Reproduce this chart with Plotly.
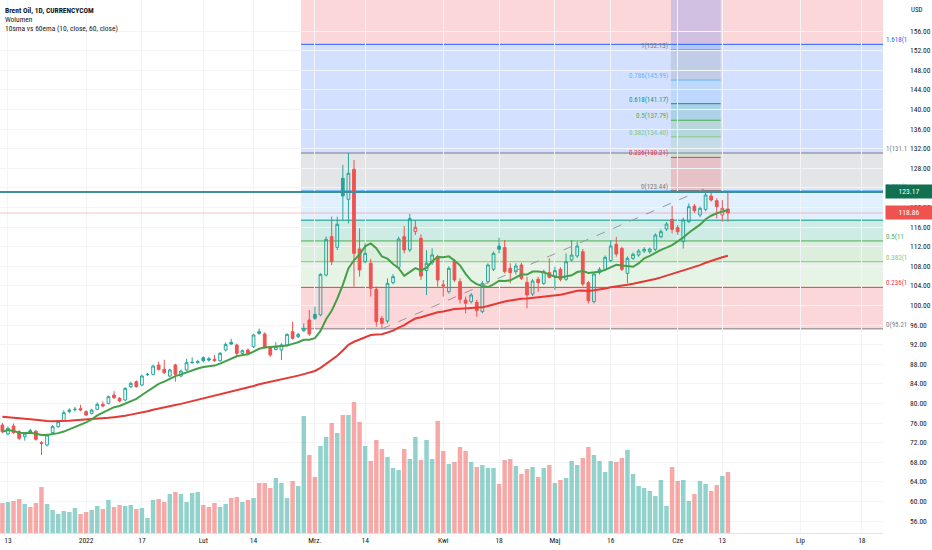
import pandas as pd
import plotly.graph_objects as go

# daily bars, Brent Oil CFD (CURRENCYCOM), Dec 10 2021 - Jun 14 2022
holidays = ["2021-12-24", "2022-04-15"]
dates = pd.bdate_range("2021-12-10", "2022-06-14")
dates = dates[~dates.isin(pd.to_datetime(holidays))]

opens = [
    75.59, 73.75, 75.39, 74.23, 73.20, 74.44, 74.30, 71.98, 71.51, 74.03,
    75.25, 76.47, 78.31, 78.72, 78.92, 78.31, 77.97, 78.79, 79.81, 80.01,
    81.71, 81.03, 80.69, 83.41, 84.43, 83.75, 85.90, 85.93, 87.84, 86.95,
    85.59, 87.84, 85.59, 86.82, 88.30, 88.31, 89.33, 89.13, 88.99, 88.72,
    90.90, 92.46, 91.92, 90.22, 90.90, 91.58, 94.64, 94.16, 91.44, 91.03,
    90.90, 91.92, 94.64, 93.62, 94.84, 97.02, 98.18, 98.05, 106.20, 114.03,
    111.85, 125.94, 121.65, 127.77, 111.52, 108.93, 108.59, 103.28, 97.36, 96.82,
    104.65, 107.77, 114.03, 111.31, 115.05, 113.69, 107.10, 108.70, 109.95, 104.20,
    102.80, 109.06, 104.85, 101.10, 100.76, 100.63, 98.73, 104.85, 107.37, 112.10,
    111.80, 107.56, 106.90, 108.25, 104.70, 102.32, 105.32, 104.50, 106.68, 106.00,
    107.36, 105.32, 109.26, 110.08, 110.96, 104.64, 100.76, 106.75, 107.36, 109.13,
    112.46, 111.64, 106.54, 109.60, 110.28, 111.10, 110.96, 111.44, 114.00, 115.59,
    117.56, 115.86, 113.00, 117.09, 120.28, 118.45, 119.60, 122.33, 121.37, 118.45,
    119.67,
]
highs = [
    76.00, 75.30, 75.90, 74.60, 74.00, 74.80, 74.60, 72.30, 73.80, 75.60,
    76.50, 78.60, 79.00, 79.30, 79.70, 78.60, 78.90, 80.20, 80.40, 81.60,
    82.50, 81.30, 83.30, 84.40, 84.70, 85.90, 86.20, 87.90, 88.50, 88.90,
    87.10, 88.10, 86.90, 89.10, 89.40, 88.90, 89.60, 89.50, 89.90, 90.50,
    92.40, 93.20, 92.20, 91.00, 91.20, 94.20, 95.30, 94.50, 91.70, 92.50,
    92.30, 94.30, 96.70, 94.40, 96.30, 99.06, 99.75, 106.55, 114.03, 118.11,
    118.10, 128.66, 131.10, 129.68, 115.73, 112.67, 109.50, 103.83, 97.80, 105.53,
    106.40, 114.03, 116.21, 118.66, 117.43, 114.50, 111.30, 111.65, 110.30, 105.19,
    108.00, 109.50, 105.53, 101.79, 102.50, 101.10, 105.00, 108.60, 111.00, 113.83,
    113.35, 108.59, 108.60, 108.70, 105.86, 105.40, 105.86, 107.30, 109.60, 107.90,
    107.80, 110.62, 113.35, 113.00, 111.50, 105.00, 106.80, 107.80, 110.20, 113.35,
    114.00, 112.00, 110.00, 110.80, 111.50, 111.90, 111.80, 114.70, 115.50, 117.00,
    120.28, 116.40, 117.90, 120.83, 120.70, 120.20, 123.20, 123.44, 121.85, 121.50,
    123.20,
]
lows = [
    73.90, 73.50, 73.80, 72.50, 72.40, 73.90, 72.40, 69.47, 71.20, 73.80,
    75.00, 76.20, 78.00, 78.30, 78.40, 77.40, 77.70, 78.60, 79.20, 79.80,
    80.90, 80.20, 80.40, 83.10, 83.20, 83.50, 85.60, 85.70, 86.70, 86.00,
    85.30, 84.43, 85.30, 86.60, 88.10, 88.10, 88.40, 88.50, 88.50, 88.50,
    90.60, 92.00, 89.50, 89.90, 89.90, 91.30, 94.00, 91.20, 89.50, 90.80,
    88.86, 91.60, 93.00, 93.30, 94.60, 93.80, 97.03, 97.80, 105.90, 108.25,
    111.30, 117.43, 116.75, 103.83, 105.87, 108.59, 101.79, 95.66, 95.21, 96.34,
    104.30, 107.40, 110.63, 110.90, 114.37, 105.19, 102.10, 108.25, 103.83, 101.79,
    102.40, 104.80, 100.40, 98.39, 100.40, 97.70, 98.40, 104.50, 107.00, 110.63,
    106.55, 104.51, 106.30, 105.20, 99.40, 101.90, 102.80, 104.20, 105.50, 103.14,
    104.90, 105.00, 108.90, 109.70, 103.90, 100.40, 100.40, 106.30, 107.00, 108.80,
    109.94, 107.00, 104.50, 109.30, 109.90, 110.70, 110.60, 111.10, 113.70, 115.20,
    114.70, 114.40, 111.60, 116.80, 118.90, 118.00, 119.20, 121.20, 117.77, 117.09,
    117.09,
]
closes = [
    74.23, 74.91, 74.03, 72.87, 73.80, 74.10, 72.67, 71.85, 73.55, 75.25,
    76.27, 78.11, 78.65, 78.80, 78.65, 77.63, 78.65, 79.81, 79.47, 81.37,
    81.17, 80.49, 83.07, 84.09, 83.41, 85.59, 85.93, 87.63, 86.95, 86.27,
    86.82, 85.93, 86.61, 88.31, 88.38, 88.52, 88.72, 88.86, 88.72, 90.22,
    92.05, 92.10, 90.22, 90.76, 90.22, 93.96, 94.30, 91.44, 89.88, 91.58,
    91.92, 94.09, 93.28, 94.09, 95.32, 94.16, 97.37, 106.34, 113.49, 108.93,
    116.55, 122.33, 126.96, 110.63, 107.23, 110.63, 103.49, 96.68, 96.34, 104.51,
    105.87, 113.56, 111.31, 117.71, 115.94, 106.00, 108.60, 110.30, 105.19, 103.97,
    107.57, 105.19, 101.24, 100.43, 102.13, 98.93, 104.51, 108.25, 110.63, 111.45,
    106.90, 106.68, 108.05, 105.52, 102.12, 104.98, 104.64, 106.88, 105.73, 107.09,
    105.32, 108.92, 110.28, 112.12, 104.36, 100.96, 106.41, 107.36, 109.81, 112.12,
    110.49, 107.36, 109.60, 110.42, 111.10, 111.44, 111.50, 114.36, 115.05, 116.61,
    115.52, 115.05, 117.43, 120.15, 119.33, 119.81, 122.53, 121.51, 120.15, 119.81,
    118.86,
]
# volume, thousand lots
volume = [
    30, 31, 32, 34, 29, 26, 30, 46, 29, 23,
    19, 22, 21, 25, 19, 21, 23, 27, 24, 33,
    26, 28, 27, 28, 24, 25, 15, 33, 34, 31,
    39, 41, 39, 31, 40, 41, 28, 26, 30, 26,
    29, 35, 36, 31, 33, 35, 50, 50, 45, 55,
    50, 35, 52, 47, 117, 78, 56, 87, 96, 110,
    100, 118, 118, 131, 111, 87, 72, 93, 84, 76,
    65, 63, 84, 74, 96, 73, 93, 74, 112, 82,
    69, 71, 86, 82, 71, 66, 68, 65, 65, 49,
    73, 74, 67, 59, 64, 66, 56, 65, 68, 50,
    53, 55, 72, 68, 75, 86, 78, 72, 61, 72,
    71, 75, 83, 59, 47, 45, 42, 37, 53, 27,
    66, 52, 53, 32, 39, 52, 49, 42, 48, 57,
    61,
]
ema_seed = 77.4  # 60 ema level at the first visible bar

# fib retracement 95.21 -> 131.10
fib_low, fib_high = 95.21, 131.10
fib_ratios = [0, 0.236, 0.382, 0.5, 0.618, 0.786, 1, 1.618, 2.618]
fib_colors = ["#787b86", "#f23645", "#81c784", "#4caf50", "#089981",
              "#64b5f6", "#787b86", "#2962ff", "#f23645"]
fib_labels = ["0(95.21", "0.236(1", "0.382(1", "0.5(11", "0.618(1",
              "0.786(1", "1(131.1", "1.618(1"]
# trend based fib extension
ext_prices = [123.44, 130.21, 134.40, 137.79, 141.17, 145.99, 152.13]
ext_top = 169.86

hline_price = 123.17
last_price = 118.86

tick_dates = ["2021-12-13", "2022-01-03", "2022-01-17", "2022-02-01", "2022-02-14",
              "2022-03-01", "2022-03-14", "2022-04-01", "2022-04-18", "2022-05-02",
              "2022-05-16", "2022-06-01", "2022-06-13", "2022-07-01", "2022-07-18"]
tick_text = ["13", "2022", "17", "Lut", "14", "Mrz.", "14", "Kwi", "18", "Maj",
             "16", "Cze", "13", "Lip", "18"]

x_start, x_end = "2021-12-09 13:40", "2022-07-21 19:00"
FONT = "Liberation Sans Narrow, Roboto Condensed, DejaVu Sans Condensed, Roboto, sans-serif"
FS = 7.5
UP, DOWN = "#26a69a", "#ef5350"


def rgba(hex_color, a):
    h = hex_color.lstrip("#")
    r, g, b = (int(h[i:i + 2], 16) for i in (0, 2, 4))
    return f"rgba({r},{g},{b},{a})"


df = pd.DataFrame({"date": dates, "open": opens, "high": highs, "low": lows,
                   "close": closes, "volume": volume})
prev = df["close"].shift(1).fillna(df["open"])
df["up"] = df["close"] >= prev
df["sma10"] = df["close"].rolling(10, min_periods=1).mean()
ema, k = [], 2 / 61
level = ema_seed
for c in df["close"]:
    level = c * k + level * (1 - k)
    ema.append(level)
df["ema60"] = ema

fig = go.Figure()

vol_colors = [rgba(UP, 0.5) if c >= o else rgba(DOWN, 0.5) for o, c in zip(df["open"], df["close"])]
fig.add_trace(go.Bar(x=df["date"], y=df["volume"], marker_color=vol_colors, marker_line_width=0,
                     width=0.8 * 86400000, yaxis="y2", hoverinfo="skip"))

for flag, col in [(True, UP), (False, DOWN)]:
    part = df[df["up"] == flag]
    fig.add_trace(go.Candlestick(
        x=part["date"], open=part["open"], high=part["high"], low=part["low"], close=part["close"],
        increasing=dict(line=dict(color=col, width=1), fillcolor="rgba(0,0,0,0)"),
        decreasing=dict(line=dict(color=col, width=1), fillcolor=col),
        whiskerwidth=0, hoverinfo="skip"))

fig.add_trace(go.Scatter(x=df["date"], y=df["ema60"], mode="lines", line=dict(color="#e53935", width=2)))
fig.add_trace(go.Scatter(x=df["date"], y=df["sma10"], mode="lines", line=dict(color="#43a047", width=2)))

shapes = []
annotations = []

# big fib retracement (extended right)
fib_x0 = "2022-02-24 12:00"
fib_prices = [fib_low + r * (fib_high - fib_low) for r in fib_ratios]
for i in range(1, len(fib_prices)):
    shapes.append(dict(type="rect", xref="x", yref="y", x0=fib_x0, x1=x_end,
                       y0=fib_prices[i - 1], y1=fib_prices[i], fillcolor=rgba(fib_colors[i], 0.2),
                       line_width=0, layer="below"))
for p, col, lab in zip(fib_prices, fib_colors, fib_labels):
    shapes.append(dict(type="line", xref="x", yref="y", x0=fib_x0, x1=x_end, y0=p, y1=p,
                       line=dict(color=col, width=1), layer="below"))
    annotations.append(dict(xref="paper", yref="y", x=1, y=p, text=lab, showarrow=False,
                            xanchor="left", yanchor="middle", xshift=1, yshift=4,
                            font=dict(size=7, color=col)))

# fib extension box
ext_x0, ext_x1 = "2022-05-30 19:00", "2022-06-10 17:00"
ext_all = ext_prices + [ext_top]
for i in range(1, len(ext_all)):
    shapes.append(dict(type="rect", xref="x", yref="y", x0=ext_x0, x1=ext_x1,
                       y0=ext_all[i - 1], y1=ext_all[i], fillcolor=rgba(fib_colors[i], 0.2),
                       line_width=0, layer="below"))
for r, p, col in zip(fib_ratios, ext_prices, fib_colors):
    shapes.append(dict(type="line", xref="x", yref="y", x0=ext_x0, x1=ext_x1, y0=p, y1=p,
                       line=dict(color=col, width=1), layer="below"))
    annotations.append(dict(xref="x", yref="y", x=ext_x0, y=p, text=f"{r:g}({p:.2f})",
                            showarrow=False, xanchor="right", yanchor="middle", xshift=-1, yshift=4,
                            font=dict(size=7, color=col)))

# trend line of the extension
shapes.append(dict(type="line", xref="x", yref="y", x0=df["date"][68], y0=fib_low,
                   x1=df["date"][126], y1=123.90, line=dict(color="#9598a1", width=1, dash="dash")))

# horizontal line and last price line
shapes.append(dict(type="line", xref="paper", yref="y", x0=0, x1=1, y0=hline_price, y1=hline_price,
                   line=dict(color="#3f8e98", width=2)))
shapes.append(dict(type="line", xref="paper", yref="y", x0=0, x1=1, y0=last_price, y1=last_price,
                   line=dict(color=rgba(DOWN, 0.35), width=1)))

annotations.append(dict(xref="paper", yref="y", x=1, y=hline_price, text=f"{hline_price:.2f}",
                        showarrow=False, xanchor="left", xshift=2, width=44, height=11,
                        bgcolor="#10704f", font=dict(size=FS, color="white")))
annotations.append(dict(xref="paper", yref="y", x=1, y=last_price, text=f"{last_price:.2f}",
                        showarrow=False, xanchor="left", xshift=2, width=44, height=11,
                        bgcolor=DOWN, font=dict(size=FS, color="white")))
annotations.append(dict(xref="paper", yref="paper", x=1, y=1, text="USD", showarrow=False,
                        xanchor="left", yanchor="top", xshift=26, yshift=-4,
                        font=dict(size=7, color="#131722")))

# legend lines top left
legend = [("<b>Brent Oil, 1D, CURRENCYCOM</b>", 4), ("Wolumen", 13), ("10sma vs 60ema (10, close, 60, close)", 22)]
for txt, top in legend:
    annotations.append(dict(xref="paper", yref="paper", x=0, y=1, text=txt, showarrow=False,
                            xanchor="left", yanchor="top", xshift=3, yshift=-top,
                            font=dict(size=FS, color="#131722")))

fig.update_layout(
    width=932, height=550,
    margin=dict(l=0, r=49, t=0, b=17),
    paper_bgcolor="white", plot_bgcolor="white",
    showlegend=False, hovermode=False,
    font=dict(family=FONT, size=FS, color="#131722"),
    shapes=shapes, annotations=annotations,
    xaxis=dict(type="date", range=[x_start, x_end],
               rangebreaks=[dict(bounds=["sat", "mon"]), dict(values=holidays)],
               tickmode="array", tickvals=tick_dates, ticktext=tick_text,
               showgrid=True, gridcolor="#f3f4f7", showline=True, linecolor="#e0e3eb",
               zeroline=False, rangeslider=dict(visible=False), tickfont=dict(size=FS)),
    yaxis=dict(side="right", range=[53.55, 162.33], tickmode="array",
               tickvals=list(range(56, 157, 4)), tickformat=".2f",
               showgrid=True, gridcolor="#f3f4f7", zeroline=False, ticklabelstandoff=26,
               tickfont=dict(size=FS)),
    yaxis2=dict(overlaying="y", range=[0, 533], visible=False),
)

# page body has a default margin; drop it so the chart sits at the window corner
fig.write_html("out.html", config={"displayModeBar": False},
               post_script="document.body.style.margin='0';")
